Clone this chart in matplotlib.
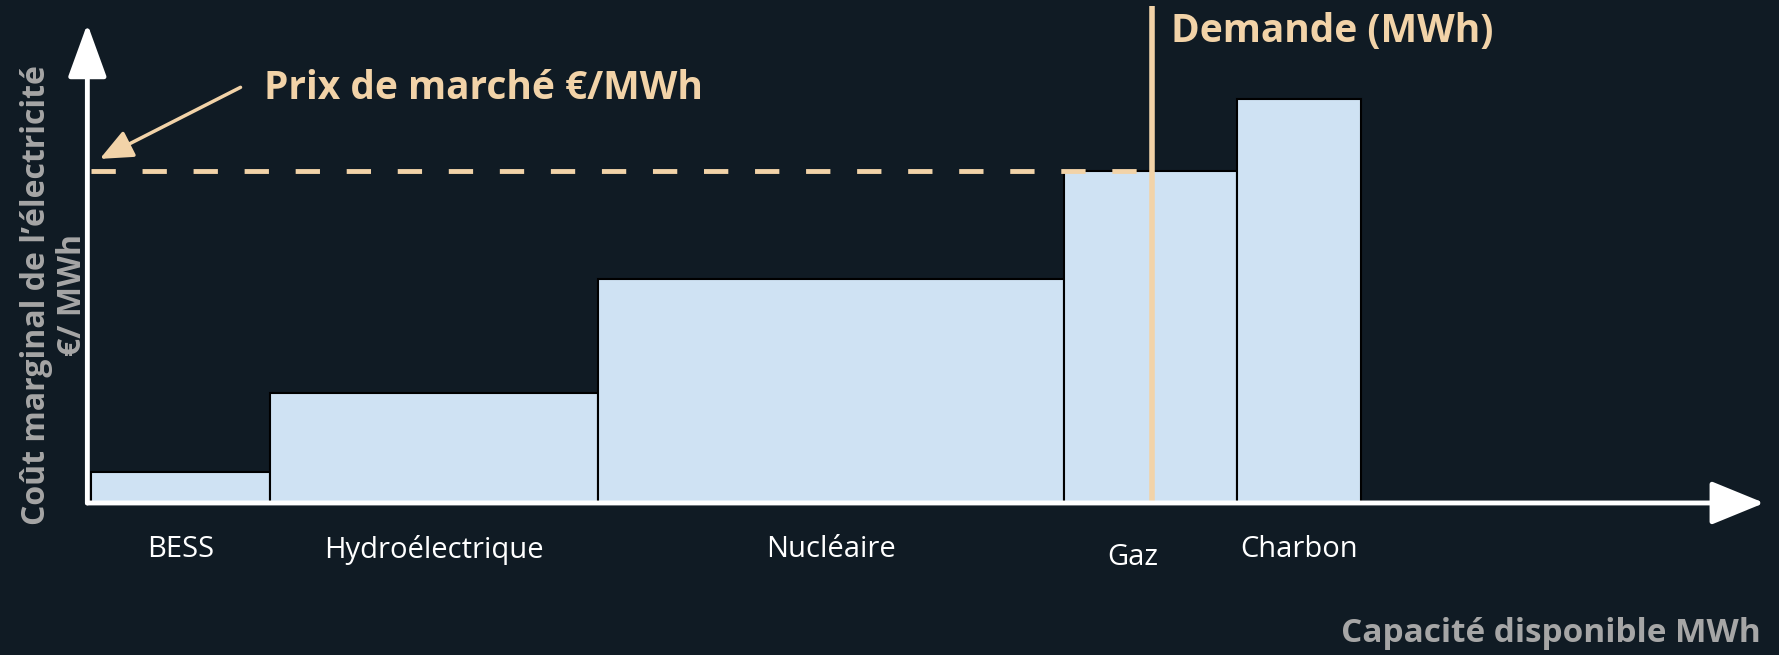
import numpy as np
import matplotlib
matplotlib.use("Agg")
from matplotlib import pyplot as plt

# merit order data
categories = ["BESS", "Hydroélectrique", "Nucléaire", "Gaz", "Charbon"]
capacity = [15.8, 28.9, 41.1, 15.2, 11.0]     # MWh (widths)
marginal_cost = [7.6, 27.2, 55.3, 82.0, 100.0]  # EUR/MWh (heights)
market_price = 82.0
demand = 93.5

bg = "#101b24"
bar_color = "#cfe2f3"
accent = "#f2d3a8"
grey = "#a6a6a6"

fig = plt.figure(figsize=(17.79, 6.55), dpi=100, facecolor=bg)
ax = fig.add_axes([0, 0, 1, 1])
ax.set_facecolor(bg)
ax.set_xlim(-8.0, 148.8)
ax.set_ylim(-37.6, 124.4)
ax.axis("off")

lefts = np.concatenate([[0], np.cumsum(capacity)[:-1]])
ax.bar(lefts, marginal_cost, width=capacity, align="edge", color=bar_color,
       edgecolor="black", linewidth=1.5, zorder=2)

# category labels under the bars
for i, name in enumerate(categories):
    cx = lefts[i] + capacity[i] / 2
    y = -13.5 if name == "Gaz" else -11.6
    if name == "Gaz":
        cx -= 1.6
    ax.text(cx, y, name, color="white", fontsize=21, family="Open Sans",
            fontweight="normal", ha="center", va="center")

# market price (dashed) and demand line
ax.plot([0, demand], [market_price, market_price], color=accent, lw=3.5,
        dashes=(5, 5.5), zorder=3)
ax.plot([demand, demand], [0, 123], color=accent, lw=4, zorder=4, solid_capstyle="butt")

# axes arrows
ax.annotate("", xy=(147.5, 0), xytext=(-0.3, 0),
            arrowprops=dict(arrowstyle="-|>,head_length=1.1,head_width=0.45", color="white",
                            lw=3.5, mutation_scale=30, shrinkA=0, shrinkB=0), zorder=5)
ax.annotate("", xy=(-0.3, 118.5), xytext=(-0.3, 0),
            arrowprops=dict(arrowstyle="-|>,head_length=1.1,head_width=0.4", color="white",
                            lw=3.5, mutation_scale=30, shrinkA=0, shrinkB=0), zorder=5)

# annotations
ax.annotate("", xy=(0.8, 85.1), xytext=(13.2, 102.8),
            arrowprops=dict(arrowstyle="-|>,head_length=0.8,head_width=0.35", color=accent,
                            lw=2.5, mutation_scale=25, shrinkA=0, shrinkB=0))
ax.text(15.3, 102.5, "Prix de marché €/MWh", color=accent, fontsize=28,
        family="Open Sans", fontweight="bold", ha="left", va="center")
ax.text(95.2, 116.6, "Demande (MWh)", color=accent, fontsize=28,
        family="Open Sans", fontweight="bold", ha="left", va="center")

ax.text(147.2, -32.3, "Capacité disponible MWh", color=grey, fontsize=24,
        family="Open Sans", fontweight="bold", ha="right", va="center")
ax.text(-4.8, 51.4, "Coût marginal de l’électricité", color=grey, fontsize=23,
        family="Open Sans", fontweight="bold", rotation=90, ha="center", va="center")
ax.text(-1.6, 51.4, "€/ MWh", color=grey, fontsize=23,
        family="Open Sans", fontweight="bold", rotation=90, ha="center", va="center")

fig.savefig("out.png", dpi=100, facecolor=bg)
